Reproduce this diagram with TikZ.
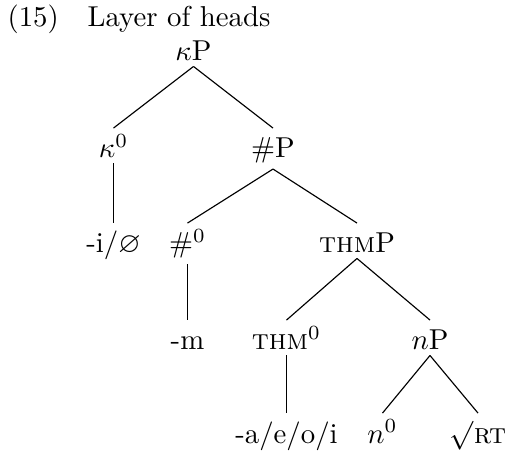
\documentclass[tikz,border=0pt]{standalone}
\usepackage{amssymb}
\begin{document}
\begin{tikzpicture}[x=0.3475pt,y=-0.3475pt,
  lab/.style={inner xsep=1pt, inner ysep=1.7pt, anchor=base, text height=8.5pt},
  edge/.style={line width=0.4pt}]
\useasboundingbox (0,0) rectangle (508,455);
\node[anchor=base west, inner sep=0] (num) at (7,27) {(15)};
\node[anchor=base west, inner sep=0] (title) at (87,27) {Layer of heads};
% level 1
\node[lab] (kP) at (193.5,61) {$\kappa$P};
% level 2
\node[lab] (k0) at (113.5,158) {$\kappa^0$};
\node[lab] (numP) at (273,158) {\#P};
% level 3
\node[lab] (kexp) at (113.5,253) {-i/$\varnothing$};
\node[lab] (num0) at (187.5,253) {\#$^0$};
\node[lab] (thmP) at (357,253) {\textsc{thm}P};
% level 4
\node[lab] (mexp) at (187.5,350) {-m};
\node[lab] (thm0) at (286.5,350) {\textsc{thm}$^0$};
\node[lab] (nP) at (430,350) {$n$P};
% level 5
\node[lab] (thmexp) at (286.5,443) {-a/e/o/i};
\node[lab] (n0) at (382.5,443) {$n^0$};
\node[lab] (rt) at (478,443) {$\surd$\textsc{rt}};
% edges
\draw[edge] (kP.south) -- (k0.north);
\draw[edge] (kP.south) -- (numP.north);
\draw[edge] (k0.south) -- (kexp.north);
\draw[edge] (numP.south) -- (num0.north);
\draw[edge] (numP.south) -- (thmP.north);
\draw[edge] (num0.south) -- (mexp.north);
\draw[edge] (thmP.south) -- (thm0.north);
\draw[edge] (thmP.south) -- (nP.north);
\draw[edge] (thm0.south) -- (thmexp.north);
\draw[edge] (nP.south) -- (n0.north);
\draw[edge] (nP.south) -- (rt.north);
\end{tikzpicture}
\end{document}
